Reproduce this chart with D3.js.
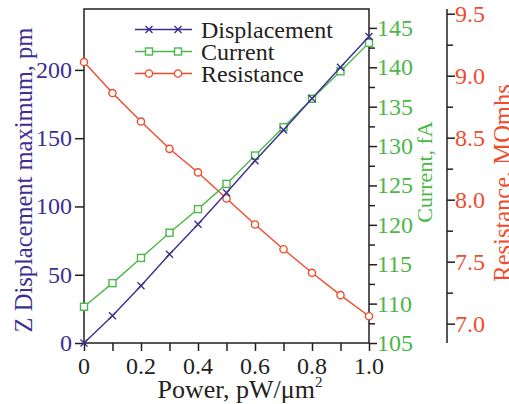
<!DOCTYPE html>
<html>
<head>
<meta charset="utf-8">
<script src="https://cdn.jsdelivr.net/npm/d3@7"></script>
<style>
html,body{margin:0;padding:0;background:#fff;}
svg{display:block;}
</style>
</head>
<body>
<svg id="chart" width="509" height="404"></svg>
<script>
const power = [0, 0.1, 0.2, 0.3, 0.4, 0.5, 0.6, 0.7, 0.8, 0.9, 1.0];
const displacement = [0, 20, 42, 65, 87, 110, 133.5, 156, 179, 202, 224.5];
const current = [109.6, 112.6, 115.8, 119.0, 122.0, 125.2, 128.8, 132.4, 136.0, 139.5, 143.1];
const resistance = [9.11, 8.86, 8.63, 8.41, 8.22, 8.01, 7.80, 7.60, 7.41, 7.23, 7.06];

const xTicks = [0, 0.2, 0.4, 0.6, 0.8, 1.0];
const xTickLabels = ["0", "0.2", "0.4", "0.6", "0.8", "1.0"];
const dTicks = [0, 50, 100, 150, 200];
const cTicks = [105, 110, 115, 120, 125, 130, 135, 140, 145];
const rTicks = [7.0, 7.5, 8.0, 8.5, 9.0, 9.5];
const rTickLabels = ["7.0", "7.5", "8.0", "8.5", "9.0", "9.5"];

const seriesNames = ["Displacement", "Current", "Resistance"];

const NAVY = "#3b2f91", GREEN = "#4cb748", RED = "#ef4b2c", AX = "#231f20";
const FONT = '"Liberation Serif", "Times New Roman", Times';

const svg = d3.select("#chart");
const L = 84, R = 369, T = 9, B = 343, RX = 447;

const x = d3.scaleLinear().domain([0, 1]).range([L, R]);
const yD = d3.scaleLinear().domain([0, 244.6]).range([B, T]);
const yC = d3.scaleLinear().domain([105, 147.4]).range([B, T]);
const yR = d3.scaleLinear().domain([6.844, 9.538]).range([B, T]);

const FS = 24;

function txt(sel) { return sel.style("font-family", FONT); }

// frame
svg.append("rect").attr("x", L).attr("y", T).attr("width", R - L).attr("height", B - T)
  .attr("fill", "none").attr("stroke", AX).attr("stroke-width", 1.5);

// x axis
const xAxis = svg.append("g").attr("transform", `translate(0,${B})`)
  .call(d3.axisBottom(x).tickValues(d3.range(0, 1.01, 0.1)).tickSize(8).tickFormat(""));
xAxis.select(".domain").remove();
xAxis.selectAll("line").attr("stroke", AX).attr("stroke-width", 1.5);
txt(svg.append("g").selectAll("text").data(xTicks).join("text"))
  .attr("x", d => x(d)).attr("y", 374).attr("text-anchor", "middle")
  .attr("font-size", FS).attr("fill", AX).text((d, i) => xTickLabels[i]);

// left axis
const lAxis = svg.append("g").attr("transform", `translate(${L},0)`)
  .call(d3.axisLeft(yD).tickValues(dTicks).tickSize(9).tickFormat(""));
lAxis.select(".domain").remove();
lAxis.selectAll("line").attr("stroke", AX).attr("stroke-width", 1.5);
txt(svg.append("g").selectAll("text").data(dTicks).join("text"))
  .attr("x", 72).attr("y", d => yD(d) + 8).attr("text-anchor", "end")
  .attr("font-size", FS).attr("fill", NAVY).text(d => d);

// current axis (right of frame)
const cAxis = svg.append("g").attr("transform", `translate(${R},0)`)
  .call(d3.axisRight(yC).tickValues(d3.range(105, 147.5, 2.5)).tickSize(7).tickFormat(""));
cAxis.select(".domain").remove();
cAxis.selectAll("line").attr("stroke", AX).attr("stroke-width", 1.5)
  .attr("x2", d => (Math.abs(d % 5) < 0.01 ? 8 : 6));
txt(svg.append("g").selectAll("text").data(cTicks).join("text"))
  .attr("x", 377).attr("y", d => yC(d) + 8)
  .attr("font-size", FS).attr("fill", GREEN).text(d => d);

// resistance axis
svg.append("line").attr("x1", RX).attr("x2", RX).attr("y1", T).attr("y2", B)
  .attr("stroke", AX).attr("stroke-width", 1.5);
const rAxis = svg.append("g").attr("transform", `translate(${RX},0)`)
  .call(d3.axisRight(yR).tickValues(d3.range(7.0, 9.51, 0.25)).tickSize(8).tickFormat(""));
rAxis.select(".domain").remove();
rAxis.selectAll("line").attr("stroke", AX).attr("stroke-width", 1.5)
  .attr("x2", d => (Math.abs((d * 2) - Math.round(d * 2)) < 0.01 ? 8 : 6));
txt(svg.append("g").selectAll("text").data(rTicks).join("text"))
  .attr("x", 455).attr("y", d => yR(d) + 8)
  .attr("font-size", FS).attr("fill", RED).text((d, i) => rTickLabels[i]);

// axis titles
txt(svg.append("text")).attr("transform", "translate(32,180) rotate(-90)")
  .attr("text-anchor", "middle").attr("font-size", 24.5).attr("fill", NAVY)
  .text("Z Displacement maximum, pm");
txt(svg.append("text")).attr("transform", "translate(432,172) rotate(-90)")
  .attr("text-anchor", "middle").attr("font-size", 22).attr("fill", GREEN)
  .text("Current, fA");
txt(svg.append("text")).attr("transform", "translate(511,183) rotate(-90)")
  .attr("text-anchor", "middle").attr("font-size", 24.5).attr("fill", RED)
  .text("Resistance, MOmhs");
const xt = txt(svg.append("text")).attr("x", 240).attr("y", 398).attr("text-anchor", "middle")
  .attr("font-size", 26).attr("fill", AX);
xt.append("tspan").text("Power, pW/\u03bcm");
xt.append("tspan").attr("font-size", 15).attr("dy", -11).text("2");

// markers
function drawMarker(g, type, cx, cy, color) {
  if (type === 0) {
    g.append("path").attr("d", `M${cx-3.5},${cy-3.5}L${cx+3.5},${cy+3.5}M${cx-3.5},${cy+3.5}L${cx+3.5},${cy-3.5}`)
      .attr("stroke", color).attr("stroke-width", 1.4).attr("fill", "none");
  } else if (type === 1) {
    g.append("rect").attr("x", cx - 3.5).attr("y", cy - 3.5).attr("width", 7).attr("height", 7)
      .attr("fill", "#fff").attr("stroke", color).attr("stroke-width", 1.4);
  } else {
    g.append("circle").attr("cx", cx).attr("cy", cy).attr("r", 3.6)
      .attr("fill", "#fff").attr("stroke", color).attr("stroke-width", 1.4);
  }
}

const series = [
  {vals: displacement, y: yD, color: NAVY, type: 0},
  {vals: current, y: yC, color: GREEN, type: 1},
  {vals: resistance, y: yR, color: RED, type: 2}
];

const plot = svg.append("g");
[2, 1, 0].forEach(si => {
  const s = series[si];
  const line = d3.line().x((d, i) => x(power[i])).y(d => s.y(d));
  plot.append("path").datum(s.vals).attr("d", line).attr("fill", "none")
    .attr("stroke", s.color).attr("stroke-width", 1.4);
  const mg = plot.append("g");
  s.vals.forEach((v, i) => drawMarker(mg, s.type, x(power[i]), s.y(v), s.color));
});

// legend
const legY = [29.5, 51.5, 73.5];
const leg = svg.append("g");
series.forEach((s, i) => {
  leg.append("line").attr("x1", 135).attr("x2", 192).attr("y1", legY[i]).attr("y2", legY[i])
    .attr("stroke", s.color).attr("stroke-width", 1.4);
  drawMarker(leg, s.type, 149, legY[i], s.color);
  drawMarker(leg, s.type, 178, legY[i], s.color);
  txt(leg.append("text")).attr("x", 201).attr("y", legY[i] + 8).attr("font-size", FS)
    .attr("fill", AX).text(seriesNames[i]);
});
</script>
</body>
</html>
